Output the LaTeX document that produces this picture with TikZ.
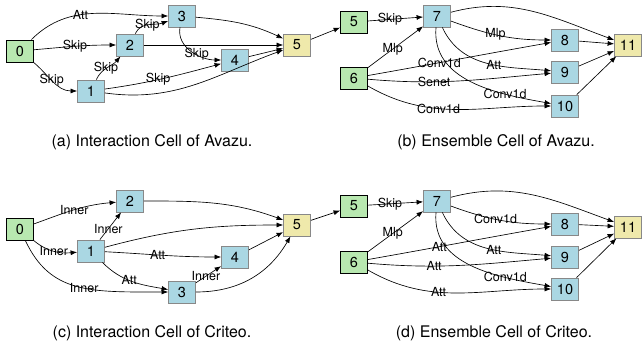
\documentclass[tikz,border=0pt]{standalone}
\usepackage{fontspec}
\setmainfont{TeX Gyre Heros}
\usetikzlibrary{arrows.meta,positioning,calc}
\definecolor{ingreen}{RGB}{184,232,176}
\definecolor{opblue}{RGB}{170,215,227}
\definecolor{outyellow}{RGB}{239,233,171}
\definecolor{edgegray}{RGB}{136,136,136}
\tikzstyle{inp} = [rectangle, draw=black, line width=0.8pt, fill=ingreen, minimum width=27pt, minimum height=22pt, inner sep=0pt, font=\fontsize{14.5}{14.5}\selectfont]
\tikzstyle{op} = [inp, draw=edgegray, fill=opblue]
\tikzstyle{outp} = [inp, draw=edgegray, fill=outyellow]
\tikzstyle{arrow} = [line width=0.65pt, -{Latex[length=6.5pt,width=5pt]}]
\tikzstyle{lbl} = [inner sep=0pt, font=\fontsize{12.5}{12.5}\selectfont]
\tikzstyle{caption} = [font=\fontsize{16}{16}\selectfont]

\begin{document}
\begin{tikzpicture}[x=1pt,y=1pt]
\useasboundingbox (0,0) rectangle (642,347);
% (a) interaction cell, Avazu
\node[inp] (a0) at (20,296) {0};
\node[op] (a1) at (91,256) {1};
\node[op] (a2) at (130,302) {2};
\node[op] (a3) at (182,331) {3};
\node[op] (a4) at (235,287) {4};
\node[outp] (a5) at (297,302) {5};
\draw[arrow] (a0) to[out=45,in=180] node[lbl,pos=.4] {Att} (a3);
\draw[arrow] (a0) to[out=5,in=180] node[lbl,pos=.5] {Skip} (a2);
\draw[arrow] (a0) to[out=-40,in=180] node[lbl,pos=.45] {Skip} (a1);
\draw[arrow] (a1) to[out=65,in=230] node[lbl,pos=.45] {Skip} (a2);
\draw[arrow] (a2) to[out=65,in=200] node[lbl,pos=.45] {Skip} (a3);
\draw[arrow] (a3) to[out=260,in=180] node[lbl,pos=.6] {Skip} (a4);
\draw[arrow] (a1) to[out=8,in=195] node[lbl,pos=.45] {Skip} (a4);
\draw[arrow] (a1) to[out=-8,in=200] (a5);
\draw[arrow] (a2) -- (a5);
\draw[arrow] (a3) to[out=-5,in=155] (a5);
\draw[arrow] (a4) -- (a5);
% (b) ensemble cell, Avazu
\node[inp] (b5) at (354,325) {5};
\node[op] (b7) at (437,331) {7};
\node[inp] (b6) at (354,269) {6};
\node[op] (b8) at (565,307) {8};
\node[op] (b9) at (565,275) {9};
\node[op] (b10) at (565,241) {10};
\node[outp] (b11) at (628,302) {11};
\draw[arrow] (a5) -- (b5);
\draw[arrow] (b5) -- node[lbl,pos=.4] {Skip} (b7);
\draw[arrow] (b6) -- node[lbl,pos=.45] {Mlp} (b7);
\draw[arrow] (b7) to[out=15,in=160] (b11);
\draw[arrow] (b7) to[out=-20,in=180] node[lbl,pos=.45] {Mlp} (b8);
\draw[arrow] (b7) to[out=-65,in=175] node[lbl,pos=.56] {Att} (b9);
\draw[arrow] (b7) to[out=-95,in=170] node[lbl,pos=.72] {Conv1d} (b10);
\draw[arrow] (b6) to[out=10,in=190] node[lbl,pos=.38] {Conv1d} (b8);
\draw[arrow] (b6) to[out=-5,in=185] node[lbl,pos=.35] {Senet} (b9);
\draw[arrow] (b6) to[out=-30,in=180] node[lbl,pos=.4] {Conv1d} (b10);
\draw[arrow] (b8) -- (b11);
\draw[arrow] (b9) -- (b11);
\draw[arrow] (b10) -- (b11);
% (c) interaction cell, Criteo
\node[inp] (c0) at (20,118) {0};
\node[op] (c2) at (130,146) {2};
\node[op] (c1) at (91,96) {1};
\node[outp] (c5) at (297,122) {5};
\node[op] (c4) at (235,90) {4};
\node[op] (c3) at (182,55) {3};
\draw[arrow] (c0) to[out=20,in=185] node[lbl,pos=.5] {Inner} (c2);
\draw[arrow] (c0) to[out=-40,in=185] node[lbl,pos=.5] {Inner} (c1);
\draw[arrow] (c0) to[out=-65,in=180,in looseness=1.3] node[lbl,pos=.55] {Inner} (c3);
\draw[arrow] (c1) -- node[lbl,pos=.4] {Inner} (c2);
\draw[arrow] (c1) to[out=15,in=180] (c5);
\draw[arrow] (c1) to[out=-3,in=180] node[lbl,pos=.45] {Att} (c4);
\draw[arrow] (c1) to[out=-45,in=170] node[lbl,pos=.45] {Att} (c3);
\draw[arrow] (c3) -- node[lbl,pos=.4] {Inner} (c4);
\draw[arrow] (c2) to[out=0,in=160] (c5);
\draw[arrow] (c4) -- (c5);
\draw[arrow] (c3) to[out=0,in=-120] (c5);
% (d) ensemble cell, Criteo
\node[inp] (d5) at (354,141) {5};
\node[op] (d7) at (437,146) {7};
\node[inp] (d6) at (354,85) {6};
\node[op] (d8) at (565,123) {8};
\node[op] (d9) at (565,90) {9};
\node[op] (d10) at (565,58) {10};
\node[outp] (d11) at (628,120) {11};
\draw[arrow] (c5) -- (d5);
\draw[arrow] (d5) -- node[lbl,pos=.4] {Skip} (d7);
\draw[arrow] (d6) -- node[lbl,pos=.45] {Mlp} (d7);
\draw[arrow] (d7) to[out=15,in=160] (d11);
\draw[arrow] (d7) to[out=-20,in=180] node[lbl,pos=.45] {Conv1d} (d8);
\draw[arrow] (d7) to[out=-65,in=175] node[lbl,pos=.56] {Att} (d9);
\draw[arrow] (d7) to[out=-95,in=170] node[lbl,pos=.72] {Conv1d} (d10);
\draw[arrow] (d6) to[out=10,in=190] node[lbl,pos=.38] {Att} (d8);
\draw[arrow] (d6) to[out=-5,in=185] node[lbl,pos=.35] {Att} (d9);
\draw[arrow] (d6) to[out=-30,in=180] node[lbl,pos=.4] {Att} (d10);
\draw[arrow] (d8) -- (d11);
\draw[arrow] (d9) -- (d11);
\draw[arrow] (d10) -- (d11);
% captions
\node[caption] (capa) at (152,205) {(a) Interaction Cell of Avazu.};
\node[caption] (capb) at (496,205) {(b) Ensemble Cell of Avazu.};
\node[caption] (capc) at (152,14) {(c) Interaction Cell of Criteo.};
\node[caption] (capd) at (494,14) {(d) Ensemble Cell of Criteo.};
\end{tikzpicture}
\end{document}
